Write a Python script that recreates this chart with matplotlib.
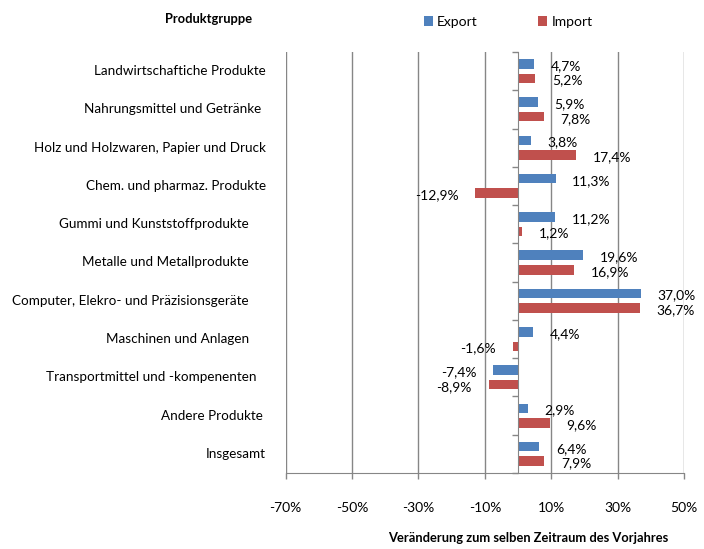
import matplotlib
matplotlib.use("Agg")
import matplotlib.pyplot as plt
import matplotlib.transforms as mtransforms
from matplotlib.patches import Patch
from matplotlib.ticker import FuncFormatter, FixedLocator
import numpy as np

plt.rcParams['font.family'] = ['Lato', 'DejaVu Sans']

categories = [
    "Landwirtschaftiche Produkte",
    "Nahrungsmittel und Getränke",
    "Holz und Holzwaren, Papier und Druck",
    "Chem. und pharmaz. Produkte",
    "Gummi und Kunststoffprodukte",
    "Metalle und Metallprodukte",
    "Computer, Elekro- und Präzisionsgeräte",
    "Maschinen und Anlagen",
    "Transportmittel und -kompenenten",
    "Andere Produkte",
    "Insgesamt",
]
export_vals = [4.7, 5.9, 3.8, 11.3, 11.2, 19.6, 37.0, 4.4, -7.4, 2.9, 6.4]
import_vals = [5.2, 7.8, 17.4, -12.9, 1.2, 16.9, 36.7, -1.6, -8.9, 9.6, 7.9]
x_ticks = [-70, -50, -30, -10, 10, 30, 50]

# label right-edge offsets (pixels left of the common anchor), layout only
label_shift_px = [0, 5, 0, 0, 17, 17, 17, 17, 10, 3, 0]

W, H = 704, 549
fig = plt.figure(figsize=(W / 100, H / 100), dpi=100)
left, right, top, bottom = 285.7, 684.0, 52.0, 473.0
ax = fig.add_axes([left / W, 1 - bottom / H, (right - left) / W, (bottom - top) / H])

blue = '#4F81BD'
red = '#C0504D'
grey = '#868686'
fs = 10
fs_cat = 9.7
fs_bold = 9.3

y = np.arange(len(categories))
bh = 0.25
off = 0.19
ax.barh(y - off, export_vals, height=bh, color=blue, zorder=3)
ax.barh(y + off, import_vals, height=bh, color=red, zorder=3)

ax.set_xlim(-70, 50)
ax.set_ylim(len(categories) - 0.5, -0.5)

# x axis
ax.xaxis.set_major_locator(FixedLocator(x_ticks))
ax.xaxis.set_major_formatter(FuncFormatter(lambda v, p: f"{v:.0f}%"))
ax.tick_params(axis='x', direction='out', length=4, width=1, color=grey,
               labelsize=fs, pad=17, labelcolor='black')
ax.grid(axis='x', color=grey, lw=1, zorder=0)
ax.grid(axis='y', visible=False)

for s in ['top', 'right']:
    ax.spines[s].set_visible(False)
ax.spines['bottom'].set_color(grey)
ax.spines['left'].set_position(('data', 0))
ax.spines['left'].set_color(grey)
ax.spines['left'].set_zorder(4)

ax.yaxis.set_major_locator(FixedLocator(np.arange(-0.5, len(categories) + 0.5, 1.0)))
ax.yaxis.set_major_formatter(FuncFormatter(lambda v, p: ""))
ax.tick_params(axis='y', direction='out', length=4, width=1, color=grey)

# category labels
trans = mtransforms.blended_transform_factory(ax.transAxes, ax.transData)
anchor_x = (266 - left) / (right - left)
for i, c in enumerate(categories):
    dx = -label_shift_px[i] / (right - left)
    ax.text(anchor_x + dx, i, c, transform=trans, ha='right', va='center', fontsize=fs_cat)

# data labels
def fmt(v):
    return f"{v:.1f}".replace('.', ',') + '%'

for i, (e, m) in enumerate(zip(export_vals, import_vals)):
    for v, yy in ((e, i - off), (m, i + off)):
        sign = 1 if v >= 0 else -1
        ax.annotate(fmt(v), xy=(v, yy), xytext=(12 * sign, -1.5),
                    textcoords='offset points', ha='left' if v >= 0 else 'right',
                    va='center', fontsize=fs, zorder=5)

# header & legend
fig.text(165 / W, 1 - 19 / H, "Produktgruppe", fontsize=fs_bold, fontweight='bold',
         ha='left', va='center')
handles = [Patch(facecolor=blue, label='Export'), Patch(facecolor=red, label='Import')]
fig.legend(handles=handles, loc='center left', bbox_to_anchor=(424 / W, 1 - 22 / H),
           ncol=2, frameon=False, fontsize=fs, handlelength=0.65, handleheight=0.65,
           handletextpad=0.3, columnspacing=4.35, borderpad=0, borderaxespad=0)

fig.text(528 / W, 1 - 538 / H, "Veränderung zum selben Zeitraum des Vorjahres",
         fontsize=fs_bold, fontweight='bold', ha='center', va='center')

fig.savefig("out.png", dpi=100)
